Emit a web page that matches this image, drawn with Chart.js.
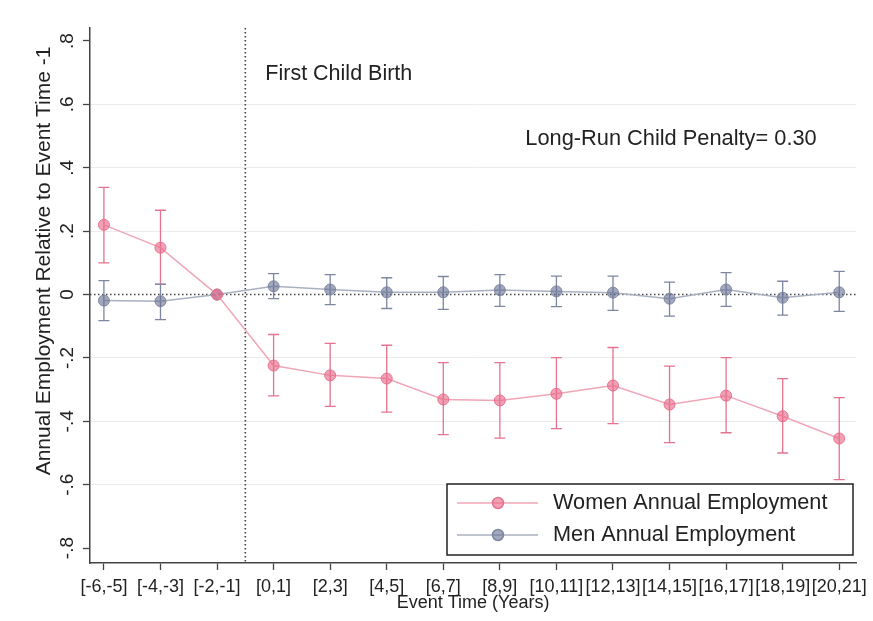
<!DOCTYPE html>
<html>
<head>
<meta charset="utf-8">
<script src="https://cdn.jsdelivr.net/npm/chart.js@4.4.1/dist/chart.umd.min.js"></script>
<style>
  html, body { margin: 0; padding: 0; background: #fff; }
  #wrap { width: 873px; height: 621px; }
</style>
</head>
<body>
<div id="wrap"><canvas id="penaltyChart" width="873" height="621"></canvas></div>
<script>
// event-time bins
const categories = ["[-6,-5]", "[-4,-3]", "[-2,-1]", "[0,1]", "[2,3]", "[4,5]", "[6,7]",
  "[8,9]", "[10,11]", "[12,13]", "[14,15]", "[16,17]", "[18,19]", "[20,21]"];

// women: point estimate + 95% CI
const womenEst = [0.22, 0.148, 0, -0.224, -0.255, -0.265, -0.331, -0.334, -0.313, -0.287, -0.347, -0.319, -0.384, -0.454];
const womenLo  = [0.10, 0.032, 0, -0.32, -0.353, -0.371, -0.442, -0.453, -0.423, -0.407, -0.467, -0.436, -0.50, -0.584];
const womenHi  = [0.338, 0.266, 0, -0.126, -0.154, -0.16, -0.215, -0.215, -0.199, -0.167, -0.226, -0.199, -0.265, -0.325];

// men: point estimate + 95% CI
const menEst = [-0.019, -0.021, 0, 0.026, 0.016, 0.007, 0.007, 0.014, 0.01, 0.006, -0.013, 0.016, -0.01, 0.007];
const menLo  = [-0.082, -0.079, 0, -0.013, -0.032, -0.044, -0.047, -0.037, -0.038, -0.05, -0.068, -0.037, -0.065, -0.053];
const menHi  = [0.044, 0.033, 0, 0.066, 0.063, 0.053, 0.057, 0.063, 0.058, 0.058, 0.039, 0.069, 0.042, 0.073];

const yTicks = [-0.8, -0.6, -0.4, -0.2, 0, 0.2, 0.4, 0.6, 0.8];
const yTickLabels = ["-.8", "-.6", "-.4", "-.2", "0", ".2", ".4", ".6", ".8"];
const birthAt = 2.5; // between [-2,-1] and [0,1]

const FONT = '"Liberation Sans", Arial, sans-serif';
const PINK = '#e5728e', PINK_LINE = '#f0a6b6', PINK_FILL = 'rgba(232,104,136,0.62)';
const GREY = '#7e86a0', GREY_LINE = '#a9b0c0', GREY_FILL = 'rgba(100,110,145,0.6)';

const toPts = arr => arr.map((v, i) => ({ x: i, y: v }));

const extras = {
  id: 'extras',
  beforeDatasetsDraw(chart) {
    const { ctx, chartArea: a, scales: { x, y } } = chart;
    ctx.save();
    // dotted reference lines
    ctx.strokeStyle = '#444';
    ctx.lineWidth = 1.6;
    ctx.setLineDash([1.5, 2.5]);
    const y0 = y.getPixelForValue(0);
    ctx.beginPath(); ctx.moveTo(a.left, y0); ctx.lineTo(a.right, y0); ctx.stroke();
    const xb = x.getPixelForValue(birthAt);
    ctx.beginPath(); ctx.moveTo(xb, a.top); ctx.lineTo(xb, a.bottom); ctx.stroke();
    ctx.setLineDash([]);
    // error bars
    const bars = (lo, hi, col) => {
      ctx.strokeStyle = col;
      ctx.lineWidth = 1.3;
      lo.forEach((l, i) => {
        if (l === hi[i]) return;
        const px = x.getPixelForValue(i), p1 = y.getPixelForValue(l), p2 = y.getPixelForValue(hi[i]);
        ctx.beginPath();
        ctx.moveTo(px, p1); ctx.lineTo(px, p2);
        ctx.moveTo(px - 5.5, p1); ctx.lineTo(px + 5.5, p1);
        ctx.moveTo(px - 5.5, p2); ctx.lineTo(px + 5.5, p2);
        ctx.stroke();
      });
    };
    bars(womenLo, womenHi, PINK);
    bars(menLo, menHi, GREY);
    ctx.restore();
  },
  afterDraw(chart) {
    const { ctx, chartArea: a, scales: { x, y } } = chart;
    ctx.save();
    ctx.fillStyle = '#222';
    // y tick labels, rotated like the original
    ctx.font = '19px ' + FONT;
    ctx.textAlign = 'center';
    ctx.textBaseline = 'middle';
    yTicks.forEach((v, i) => {
      ctx.save();
      ctx.translate(68, y.getPixelForValue(v));
      ctx.rotate(-Math.PI / 2);
      ctx.fillText(yTickLabels[i], 0, 0);
      ctx.restore();
    });
    // axis titles
    ctx.font = '21px ' + FONT;
    ctx.save();
    ctx.translate(44, 261);
    ctx.rotate(-Math.PI / 2);
    ctx.fillText('Annual Employment Relative to Event Time -1', 0, 0);
    ctx.restore();
    ctx.font = '18px ' + FONT;
    ctx.fillText('Event Time (Years)', (a.left + a.right) / 2, 603);
    // annotations
    ctx.font = '21.5px ' + FONT;
    ctx.textAlign = 'left';
    ctx.fillText('First Child Birth', x.getPixelForValue(birthAt) + 20, 74);
    ctx.font = '21.8px ' + FONT;
    ctx.textAlign = 'center';
    ctx.fillText('Long-Run Child Penalty= 0.30', 671, 139);
    // legend box
    ctx.fillStyle = '#fff';
    ctx.fillRect(447, 484, 406, 71);
    ctx.strokeStyle = '#222';
    ctx.lineWidth = 1.5;
    ctx.strokeRect(447, 484, 406, 71);
    const row = (yy, line, fill, edge, label) => {
      ctx.strokeStyle = line; ctx.lineWidth = 1.5;
      ctx.beginPath(); ctx.moveTo(457, yy); ctx.lineTo(538, yy); ctx.stroke();
      ctx.fillStyle = fill; ctx.strokeStyle = edge;
      ctx.beginPath(); ctx.arc(498, yy, 5.5, 0, Math.PI * 2); ctx.fill(); ctx.stroke();
      ctx.fillStyle = '#222';
      ctx.font = '21.7px ' + FONT;
      ctx.textAlign = 'left';
      ctx.fillText(label, 553, yy);
    };
    row(503, PINK_LINE, PINK_FILL, PINK, 'Women Annual Employment');
    row(535, GREY_LINE, GREY_FILL, GREY, 'Men Annual Employment');
    ctx.restore();
  }
};

new Chart(document.getElementById('penaltyChart'), {
  type: 'line',
  data: {
    datasets: [
      {
        label: 'Women Annual Employment',
        data: toPts(womenEst),
        borderColor: PINK_LINE,
        borderWidth: 1.5,
        pointRadius: 5.5,
        pointBackgroundColor: PINK_FILL,
        pointBorderColor: PINK,
        pointBorderWidth: 1,
        tension: 0
      },
      {
        label: 'Men Annual Employment',
        data: toPts(menEst),
        borderColor: GREY_LINE,
        borderWidth: 1.5,
        pointRadius: 5.5,
        pointBackgroundColor: GREY_FILL,
        pointBorderColor: GREY,
        pointBorderWidth: 1,
        tension: 0
      }
    ]
  },
  options: {
    responsive: false,
    animation: false,
    layout: { padding: { top: 28, right: 11, left: 0, bottom: 0 } },
    plugins: { legend: { display: false }, tooltip: { enabled: false } },
    scales: {
      x: {
        type: 'linear',
        min: -0.246,
        max: 13.3,
        afterBuildTicks: s => { s.ticks = categories.map((c, i) => ({ value: i })); },
        afterFit: s => { s.height = 58; },
        ticks: {
          autoSkip: false,
          maxRotation: 0,
          padding: 6,
          color: '#222',
          font: { family: FONT, size: 18 },
          callback: v => categories[v]
        },
        grid: { drawOnChartArea: false, drawTicks: true, tickLength: 7, tickColor: '#444', tickWidth: 1.3 },
        border: { color: '#444', width: 1.5 }
      },
      y: {
        min: -0.847,
        max: 0.841,
        afterBuildTicks: s => { s.ticks = yTicks.map(v => ({ value: v })); },
        afterFit: s => { s.width = 90; },
        ticks: { display: false },
        grid: {
          color: c => (Math.abs(c.tick.value) < 0.01 || Math.abs(c.tick.value) > 0.7) ? 'rgba(0,0,0,0)' : '#ebebeb',
          lineWidth: 1,
          tickLength: 7,
          tickColor: '#444',
          tickWidth: 1.3
        },
        border: { color: '#444', width: 1.5 }
      }
    }
  },
  plugins: [extras]
});
</script>
</body>
</html>
